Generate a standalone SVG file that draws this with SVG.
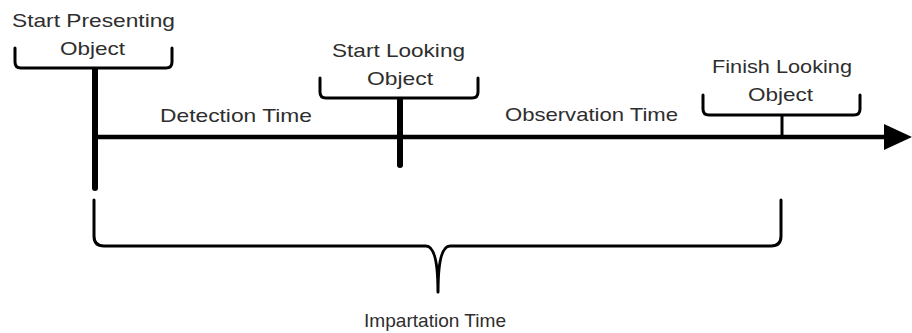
<svg xmlns="http://www.w3.org/2000/svg" width="912" height="333" viewBox="0 0 912 333">
  <style>
    .lbl { font-family: "Liberation Sans", Arial, sans-serif; font-size: 19px; fill: #2e2e2e; }
    .brk { fill: none; stroke: #000; stroke-width: 3; stroke-linejoin: round; stroke-linecap: round; }
    .axis { stroke: #000; stroke-width: 4.5; }
    .stem { stroke: #000; stroke-width: 6; stroke-linecap: round; }
    .tick { stroke: #000; stroke-width: 3; }
  </style>
  <rect width="912" height="333" fill="#fff"/>

  <!-- timeline and event stems -->
  <g id="connectors">
    <line class="axis" x1="95" y1="137" x2="887" y2="137"/>
    <polygon points="884,124 912,137 884,150" fill="#000"/>
    <line class="stem" x1="95" y1="70" x2="95" y2="188"/>
    <line class="stem" x1="400" y1="100" x2="400" y2="165"/>
    <line class="tick" x1="782" y1="115" x2="782" y2="137"/>
  </g>

  <!-- event: start presenting -->
  <g id="start-presenting">
    <path class="brk" d="M15,48 V62 Q15,68 21,68 H166 Q172,68 172,62 V48"/>
    <text class="lbl" x="12" y="27" textLength="163" lengthAdjust="spacingAndGlyphs">Start Presenting</text>
    <text class="lbl" x="60" y="55" textLength="65" lengthAdjust="spacingAndGlyphs">Object</text>
  </g>

  <!-- event: start looking -->
  <g id="start-looking">
    <path class="brk" d="M320,78 V92 Q320,98 326,98 H472 Q478,98 478,92 V78"/>
    <text class="lbl" x="332" y="57" textLength="133" lengthAdjust="spacingAndGlyphs">Start Looking</text>
    <text class="lbl" x="367" y="85" textLength="66" lengthAdjust="spacingAndGlyphs">Object</text>
  </g>

  <!-- event: finish looking -->
  <g id="finish-looking">
    <path class="brk" d="M703,95 V109 Q703,115 709,115 H854 Q860,115 860,109 V95"/>
    <text class="lbl" x="712" y="73" textLength="140" lengthAdjust="spacingAndGlyphs">Finish Looking</text>
    <text class="lbl" x="748" y="101" textLength="65" lengthAdjust="spacingAndGlyphs">Object</text>
  </g>

  <!-- intervals on the timeline -->
  <g id="detection-time">
    <text class="lbl" x="160" y="122" textLength="152" lengthAdjust="spacingAndGlyphs">Detection Time</text>
  </g>
  <g id="observation-time">
    <text class="lbl" x="505" y="121" textLength="173" lengthAdjust="spacingAndGlyphs">Observation Time</text>
  </g>

  <!-- overall span brace -->
  <g id="impartation-time">
    <path class="brk" d="M94,200 V236 Q94,246 104,246 H426 Q438,246 438,292 Q438,246 450,246 H771 Q781,246 781,236 V200"/>
    <text class="lbl" x="364" y="327" textLength="142" lengthAdjust="spacingAndGlyphs">Impartation Time</text>
  </g>
</svg>
